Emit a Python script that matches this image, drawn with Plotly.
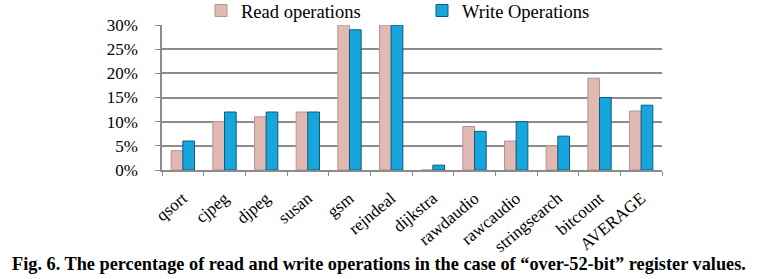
import plotly.graph_objects as go

categories = ["qsort", "cjpeg", "djpeg", "susan", "gsm", "rejndeal", "dijkstra",
              "rawdaudio", "rawcaudio", "stringsearch", "bitcount", "AVERAGE"]
read_ops = [4, 10, 11, 12, 30, 30, 0, 9, 6, 5, 19, 12.2]
write_ops = [6, 12, 12, 12, 29, 30, 1, 8, 10, 7, 15, 13.4]
y_ticks = [0, 5, 10, 15, 20, 25, 30]
y_labels = [f"{v}%" for v in y_ticks]

W, H = 766, 279
L, R, T, B = 162, 104, 25, 109
pw = W - L - R
ph = H - T - B

fig = go.Figure()
fig.add_trace(go.Bar(
    name="Read operations", x=categories, y=read_ops,
    marker=dict(color="#E2B8B2", line=dict(color="#B89490", width=1)),
))
fig.add_trace(go.Bar(
    name="Write Operations", x=categories, y=write_ops,
    marker=dict(color="#17A6DC", line=dict(color="#0B5C80", width=1)),
))

font_family = "Liberation Serif, Times New Roman, serif"
fig.update_layout(
    width=W, height=H,
    margin=dict(l=L, r=R, t=T, b=B, pad=0, autoexpand=False),
    paper_bgcolor="white", plot_bgcolor="white",
    barmode="group", bargap=0.44, bargroupgap=0.0,
    font=dict(family=font_family, color="black"),
    showlegend=True,
    legend=dict(
        orientation="h", x=(201 - L) / pw, xanchor="left",
        y=1.0 + 33 / ph, yanchor="top",
        font=dict(family=font_family, size=18.5, color="black"),
        entrywidth=176, entrywidthmode="pixels",
        bgcolor="rgba(0,0,0,0)",
        tracegroupgap=0,
    ),
    xaxis=dict(
        showgrid=False, showline=True, linecolor="#8C8C8C", linewidth=1.5,
        ticks="outside", ticklen=4, tickcolor="#8C8C8C", tickson="boundaries",
        tickangle=-40, ticklabelstandoff=10,
        tickfont=dict(family=font_family, size=17, color="black"),
        automargin=False,
    ),
    yaxis=dict(
        range=[0, 30], tickvals=y_ticks, ticktext=y_labels,
        showgrid=True, gridcolor="#8C8C8C", gridwidth=1.5,
        showline=True, linecolor="#8C8C8C", linewidth=1.5,
        ticks="outside", ticklen=5, tickcolor="#8C8C8C",
        ticklabelstandoff=14,
        tickfont=dict(family=font_family, size=17, color="black"),
        zeroline=False, automargin=False,
    ),
)

fig.add_annotation(
    text="<b>Fig. 6. The percentage of read and write operations in the case of “over-52-bit” register values.</b>",
    xref="paper", yref="paper", x=(10 - L) / pw, y=-(264 - (H - B)) / ph,
    xanchor="left", yanchor="middle", showarrow=False,
    font=dict(family=font_family, size=18.3, color="black"),
)

fig.write_html("out.html")
